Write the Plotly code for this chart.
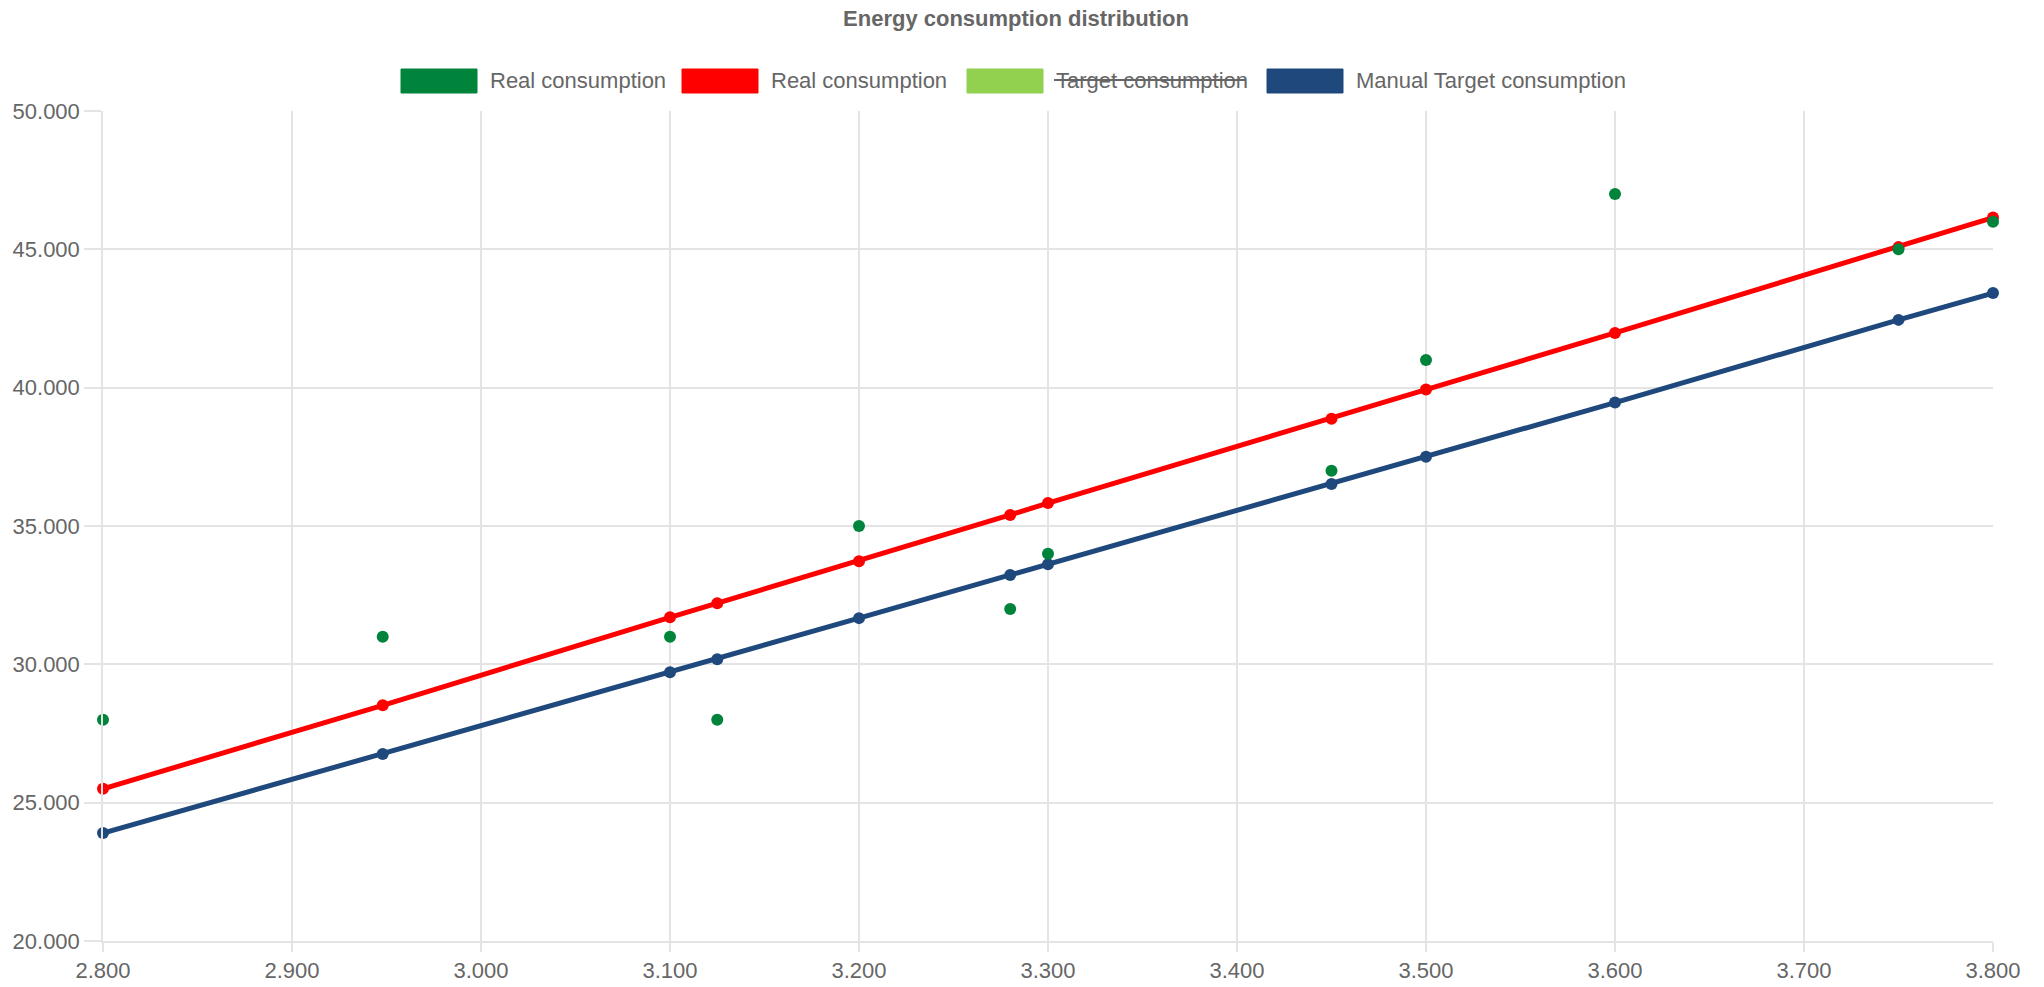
import plotly.graph_objects as go

# Energy consumption data (x: production level, y: consumption)
x_values = [2800, 2948, 3100, 3125, 3200, 3280, 3300, 3450, 3500, 3600, 3750, 3800]
real_points = [28000, 31000, 31000, 28000, 35000, 32000, 34000, 37000, 41000, 47000, 45000, 46000]
real_trend = [25500, 28520, 31700, 32210, 33730, 35400, 35830, 38880, 39930, 41980, 45080, 46150]
manual_target = [23900, 26760, 29710, 30180, 31670, 33230, 33620, 36520, 37500, 39460, 42450, 43420]

legend_labels = ["Real consumption", "Real consumption", "Target consumption", "Manual Target consumption"]
legend_hidden = [False, False, True, False]

GREEN = "#00843C"
RED = "#FF0000"
LIGHT_GREEN = "#92D050"
NAVY = "#1F497D"
legend_colors = [GREEN, RED, LIGHT_GREEN, NAVY]

FONT = "Liberation Sans, Arial, Helvetica, sans-serif"
TEXT = "#666666"
GRID = "#e4e4e4"

W, H = 2044, 987
L, R, T, B = 103, 51, 111, 46
PW, PH = W - L - R, H - T - B


def px_x(p):
    return (p - L) / PW


def px_y(p):
    return (H - B - p) / PH


fig = go.Figure()

fig.add_trace(go.Scatter(
    x=x_values, y=manual_target, mode="lines+markers",
    line=dict(color=NAVY, width=5), marker=dict(color=NAVY, size=12),
    name="Manual Target consumption", showlegend=False, cliponaxis=False,
))
fig.add_trace(go.Scatter(
    x=x_values, y=real_trend, mode="lines+markers",
    line=dict(color=RED, width=5), marker=dict(color=RED, size=12),
    name="Real consumption", showlegend=False, cliponaxis=False,
))
fig.add_trace(go.Scatter(
    x=x_values, y=real_points, mode="markers",
    marker=dict(color=GREEN, size=12),
    name="Real consumption", showlegend=False, cliponaxis=False,
))

# Custom legend row: colour boxes + labels (hidden series struck through)
box_left = [401, 682, 967, 1267]
box_w, box_top, box_bottom = 76, 69, 93
text_gap = 11
text_widths = [178, 176, 192, 276]
shapes = []
annotations = []
for lbl, col, hidden, bx, tw in zip(legend_labels, legend_colors, legend_hidden, box_left, text_widths):
    shapes.append(dict(
        type="rect", xref="paper", yref="paper",
        x0=px_x(bx), x1=px_x(bx + box_w), y0=px_y(box_bottom), y1=px_y(box_top),
        fillcolor=col, line=dict(color=col, width=1),
    ))
    tx = bx + box_w + text_gap
    annotations.append(dict(
        text=lbl, xref="paper", yref="paper", x=px_x(tx), y=px_y(80),
        xanchor="left", yanchor="middle", showarrow=False,
        font=dict(family=FONT, size=22, color=TEXT),
    ))
    if hidden:
        shapes.append(dict(
            type="line", xref="paper", yref="paper",
            x0=px_x(tx), x1=px_x(tx + tw), y0=px_y(80), y1=px_y(80),
            line=dict(color=TEXT, width=2),
        ))

axis_common = dict(
    showgrid=True, gridcolor=GRID, gridwidth=1.5,
    showline=True, linecolor=GRID, linewidth=1.5,
    ticks="outside", tickcolor=GRID, tickwidth=1.5,
    tickfont=dict(family=FONT, size=22, color=TEXT),
    zeroline=False, automargin=False, tickformat=",d",
)

fig.update_layout(
    width=W, height=H,
    margin=dict(l=L, r=R, t=T, b=B, pad=0, autoexpand=False),
    paper_bgcolor="white", plot_bgcolor="white",
    separators=",.",
    showlegend=False,
    title=dict(
        text="<b>Energy consumption distribution</b>",
        x=1016 / W, xref="container", xanchor="center",
        y=1 - 18 / H, yref="container", yanchor="middle",
        font=dict(family=FONT, size=22, color=TEXT),
        automargin=False,
    ),
    font=dict(family=FONT, size=22, color=TEXT),
    shapes=shapes,
    annotations=annotations,
    xaxis=dict(range=[2800, 3800], tick0=2800, dtick=100, ticklen=9, **axis_common),
    yaxis=dict(range=[20000, 50000], tick0=20000, dtick=5000, ticklen=17, **axis_common),
)

fig.write_html("out.html")
